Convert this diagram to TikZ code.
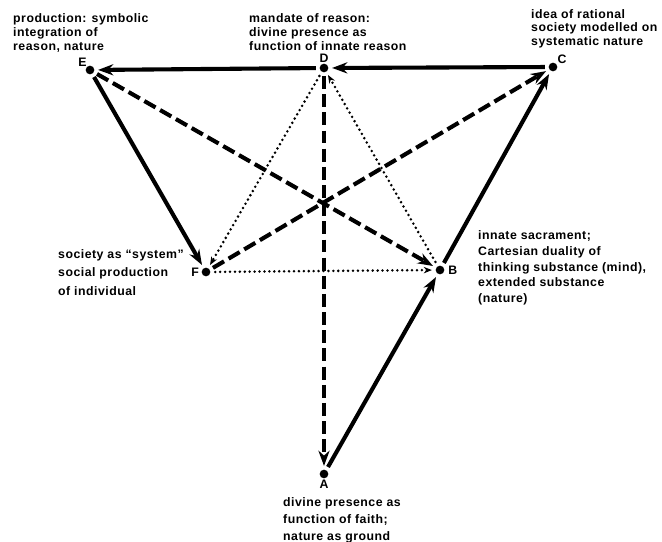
\documentclass[tikz,border=0pt]{standalone}
\usepackage{fontspec}
\setmainfont{Liberation Sans}
\newfontfamily\notefont[LetterSpace=4]{Liberation Sans}
\usetikzlibrary{arrows.meta, positioning}

\begin{document}
\begin{tikzpicture}[
    x=0.03cm, y=-0.03cm,
    pt/.style={circle, fill=black, inner sep=0pt, minimum size=0.26cm},
    letter/.style={font=\bfseries\fontsize{10.5}{12}\selectfont, inner sep=1pt},
    note/.style={font=\notefont\bfseries\fontsize{10.5}{12}\selectfont, align=left, inner sep=0pt, anchor=north west},
    strong/.style={line width=3.5pt, -{Stealth[length=13pt, width=9.5pt]}, shorten >=3pt, shorten <=3pt},
    broken/.style={strong, dash pattern=on 11pt off 4.5pt},
    faint/.style={line width=2.4pt, line cap=round, dash pattern=on 0pt off 4.2pt,
        -{Stealth[length=7pt, width=5.5pt]}, shorten >=3pt, shorten <=4pt}
]
    \useasboundingbox (0,0) rectangle (662,542);

    % Points
    \node[pt] (E) at (90,70) {};
    \node[pt] (D) at (324,68) {};
    \node[pt] (C) at (553,67) {};
    \node[pt] (F) at (206,272) {};
    \node[pt] (B) at (440,270) {};
    \node[pt] (A) at (324,474) {};

    % Letters
    \node[letter, above left=-1pt and -1pt of E] (lE) {E};
    \node[letter, above=0pt of D] (lD) {D};
    \node[letter, above right=-1pt and 0pt of C] (lC) {C};
    \node[letter, left=1pt of F] (lF) {F};
    \node[letter, right=2pt of B] (lB) {B};
    \node[letter, below=0pt of A] (lA) {A};

    % Texts
    \node[note] (tE) at (13,13) {production: symbolic\\integration of\\reason, nature};
    \node[note] (tD) at (249,13) {mandate of reason:\\divine presence as\\function of innate reason};
    \node[note, font=\notefont\bfseries\fontsize{10.5}{11.5}\selectfont] (tC) at (531,9) {idea of rational\\society modelled on\\systematic nature};
    \node[note, font=\notefont\bfseries\fontsize{10.5}{16}\selectfont] (tF) at (58,249) {society as “system”\\social production\\of individual};
    \node[note, font=\notefont\bfseries\fontsize{10.5}{13.6}\selectfont] (tB) at (478,230) {innate sacrament;\\Cartesian duality of\\thinking substance (mind),\\extended substance\\(nature)};
    \node[note, font=\notefont\bfseries\fontsize{10.5}{14.5}\selectfont] (tA) at (283,497) {divine presence as\\function of faith;\\nature as ground};

    % Solid cycle
    \draw[strong] (C) -- (D);
    \draw[strong] (D) -- (E);
    \draw[strong] (E) -- (F);
    \draw[strong] (A) -- (B);
    \draw[strong] (B) -- (C);

    % Dashed
    \draw[broken] (D) -- (A);
    \draw[broken] (E) -- (B);
    \draw[broken] (F) -- (C);

    % Dotted
    \draw[faint] (B) -- (D);
    \draw[faint] (D) -- (F);
    \draw[faint] (F) -- (B);
\end{tikzpicture}
\end{document}
